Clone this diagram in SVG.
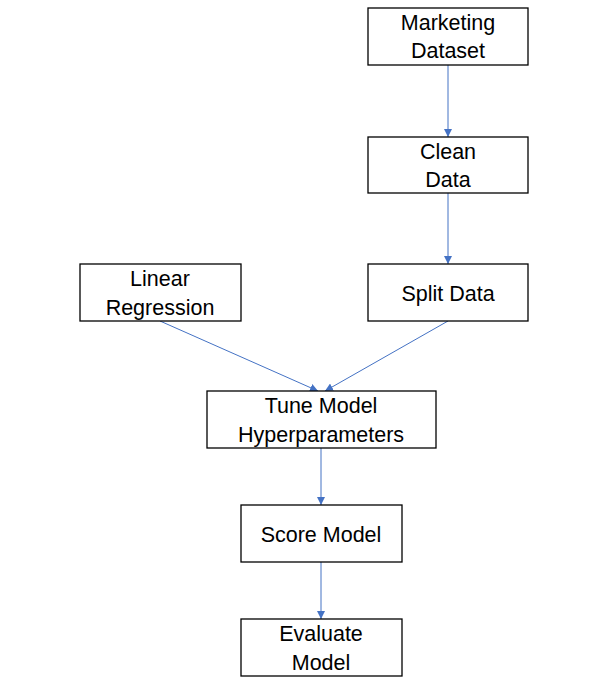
<svg xmlns="http://www.w3.org/2000/svg" width="614" height="686" viewBox="0 0 614 686">
<style>
.box{fill:#fff;stroke:#000;stroke-width:1.3}
.t{font-family:"Liberation Sans",Arial,sans-serif;font-size:21.5px;fill:#000;text-anchor:middle}
.c{stroke:#4472C4;stroke-width:1;fill:none;marker-end:url(#ah)}
</style>
<defs>
<marker id="ah" viewBox="0 0 10 10" refX="10" refY="5" markerWidth="8" markerHeight="8" markerUnits="userSpaceOnUse" orient="auto">
<path d="M0,0 L10,5 L0,10 z" fill="#4472C4"/>
</marker>
</defs>
<rect width="614" height="686" fill="#fff"/>
<g id="connectors">
<line class="c" x1="448" y1="65" x2="448" y2="137"/>
<line class="c" x1="448" y1="193" x2="448" y2="264"/>
<line class="c" x1="160" y1="321" x2="318" y2="391"/>
<line class="c" x1="448" y1="321" x2="325" y2="391"/>
<line class="c" x1="321" y1="448" x2="321" y2="505"/>
<line class="c" x1="321" y1="562" x2="321" y2="619"/>
</g>
<g id="marketing"><rect class="box" x="368" y="8" width="160" height="57"/><text class="t" x="448" y="30">Marketing</text><text class="t" x="448" y="58">Dataset</text></g>
<g id="clean"><rect class="box" x="368" y="137" width="160" height="56"/><text class="t" x="448" y="159">Clean</text><text class="t" x="448" y="187">Data</text></g>
<g id="split"><rect class="box" x="368" y="264" width="160" height="57"/><text class="t" x="448" y="301">Split Data</text></g>
<g id="linear"><rect class="box" x="80" y="264" width="161" height="57"/><text class="t" x="160" y="286">Linear</text><text class="t" x="160" y="315">Regression</text></g>
<g id="tune"><rect class="box" x="207" y="391" width="229" height="57"/><text class="t" x="321" y="413">Tune Model</text><text class="t" x="321" y="442">Hyperparameters</text></g>
<g id="score"><rect class="box" x="241" y="505" width="161" height="57"/><text class="t" x="321" y="542">Score Model</text></g>
<g id="evaluate"><rect class="box" x="241" y="619" width="161" height="57"/><text class="t" x="321" y="641">Evaluate</text><text class="t" x="321" y="670">Model</text></g>
</svg>
